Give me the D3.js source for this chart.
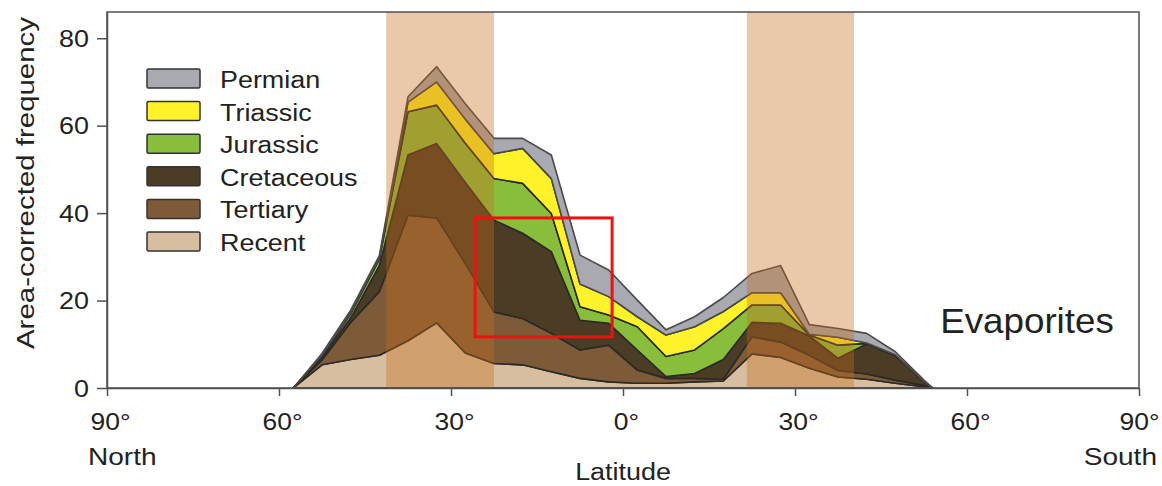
<!DOCTYPE html>
<html>
<head>
<meta charset="utf-8">
<script src="https://cdn.jsdelivr.net/npm/d3@7"></script>
<style>
  html, body { margin: 0; padding: 0; background: #fff; }
  svg { display: block; font-family: "Liberation Sans", Arial, sans-serif; }
</style>
</head>
<body>
<div class="visHolder"></div>
<script>
// latitude of each sample, north positive
const latitudes = [57.5, 52.5, 47.5, 42.5, 37.5, 32.5, 27.5, 22.5, 17.5, 12.5, 7.5, 2.5,
                   -2.5, -7.5, -12.5, -17.5, -22.5, -27.5, -32.5, -37.5, -42.5, -47.5, -52.5, -54];
// area-corrected frequency per period (layer thickness, stacked bottom -> top)
const recent     = [0, 5.3, 6.5, 7.5, 10.8, 14.9, 8.0, 5.6, 5.3, 3.7, 2.2, 1.4, 1.1, 1.1, 1.4, 1.6, 7.8, 7.0, 4.5, 2.5, 2.0, 1.1, 0.3, 0];
const tertiary   = [0, 1.1, 8.5, 14.5, 28.7, 24.0, 20.5, 11.8, 10.6, 8.8, 6.5, 8.4, 3.0, 1.1, 0.8, 0.4, 3.9, 3.5, 3.0, 1.5, 1.2, 0.7, 0.3, 0];
const cretaceous = [0, 0.6, 1.0, 6.0, 13.8, 17.0, 18.5, 21.0, 19.5, 18.7, 6.8, 5.0, 4.6, 0.4, 1.1, 4.5, 3.3, 4.3, 4.4, 2.8, 6.9, 5.6, 0.8, 0];
const jurassic   = [0, 0.4, 1.0, 1.5, 9.9, 8.8, 9.0, 9.5, 11.4, 8.7, 3.1, 1.9, 5.3, 4.6, 5.4, 7.1, 4.0, 4.2, 0.2, 3.0, 0.1, 0.1, 0.1, 0];
const triassic   = [0, 0.1, 0.2, 0.2, 2.2, 5.3, 5.5, 5.7, 8.0, 8.0, 5.2, 4.2, 2.3, 4.9, 5.3, 3.9, 2.8, 2.8, 0.2, 1.8, 0.1, 0.1, 0, 0];
const permian    = [0, 0.4, 0.6, 0.6, 1.2, 3.5, 3.5, 3.5, 2.3, 5.4, 6.6, 6.1, 3.8, 1.2, 2.3, 3.2, 4.4, 6.2, 2.2, 2.0, 2.2, 0.7, 0.3, 0];

const periods = ['Permian', 'Triassic', 'Jurassic', 'Cretaceous', 'Tertiary', 'Recent'];
const yTicks = [0, 20, 40, 60, 80];
const xTicks = [90, 60, 30, 0, -30, -60, -90];
// arid belts (latitude from, to)
const bands = [[41.3, 22.5], [-21.6, -40.3]];
// highlighted box: [lat1, lat2, value1, value2]
const focusBox = [25.8, 1.9, 11.7, 38.9];

const w = 1162, h = 486;
const padL = 107, padR = 1139, padT = 12, padB = 388;
const stretchX = 1.17;

const colors = {
  Permian: '#a9a9b1',
  Triassic: '#fff22a',
  Jurassic: '#88be3c',
  Cretaceous: '#4b3c25',
  Tertiary: '#7d5b39',
  Recent: '#d8bea0'
};

const rows = latitudes.map((lat, i) => ({
  lat: lat,
  Recent: recent[i], Tertiary: tertiary[i], Cretaceous: cretaceous[i],
  Jurassic: jurassic[i], Triassic: triassic[i], Permian: permian[i]
}));

const svg = d3.select('.visHolder')
  .append('svg')
  .attr('width', w)
  .attr('height', h);

const xScale = d3.scaleLinear().domain([90, -90]).range([padL, padR]);
const yScale = d3.scaleLinear().domain([0, 86]).range([padB, padT]);

// stacked layers, Recent at the bottom
const stack = d3.stack().keys(periods.slice().reverse());
const layers = stack(rows);

const area = d3.area()
  .x(d => xScale(d.data.lat))
  .y0(d => yScale(d[0]))
  .y1(d => yScale(d[1]));

svg.append('g')
  .selectAll('path')
  .data(layers)
  .enter()
  .append('path')
  .attr('d', area)
  .attr('fill', d => colors[d.key])
  .attr('stroke', d => d.key === 'Permian' ? '#4a4a4a' : '#2c2a26')
  .attr('stroke-width', 1.6)
  .attr('stroke-linejoin', 'round');

// tinted latitude bands laid over the layers
svg.append('g')
  .selectAll('rect')
  .data(bands)
  .enter()
  .append('rect')
  .attr('x', d => xScale(d[0]))
  .attr('width', d => xScale(d[1]) - xScale(d[0]))
  .attr('y', yScale.range()[1])
  .attr('height', yScale.range()[0] - yScale.range()[1])
  .attr('fill', '#c66c1c')
  .attr('fill-opacity', 0.37);

// frame
svg.append('rect')
  .attr('x', padL).attr('y', padT)
  .attr('width', padR - padL).attr('height', padB - padT)
  .attr('fill', 'none')
  .attr('stroke', '#505050')
  .attr('stroke-width', 1.5);

const yAxis = d3.axisLeft(yScale).tickValues(yTicks).tickSize(10).tickSizeOuter(0).tickPadding(8);
const xAxis = d3.axisBottom(xScale).tickValues(xTicks).tickSize(8).tickSizeOuter(0)
  .tickFormat(d => Math.abs(d) + '°');

const gy = svg.append('g')
  .attr('transform', `translate(${padL}, 0)`)
  .call(yAxis);
const gx = svg.append('g')
  .attr('transform', `translate(0, ${padB})`)
  .call(xAxis);

[gx, gy].forEach(g => {
  g.selectAll('path, line').attr('stroke', '#505050').attr('stroke-width', 1.5);
  g.selectAll('text').attr('fill', '#222').style('font-size', '23px');
});

gy.selectAll('text')
  .attr('dy', '0.36em')
  .attr('transform', function() {
    const tx = +this.getAttribute('x');
    this.setAttribute('x', 0);
    return `translate(${tx},0) scale(${stretchX},1)`;
  });

gx.selectAll('text')
  .attr('dy', 0)
  .attr('y', 0)
  .attr('transform', d => `translate(${d === -90 ? 0 : 3},42) scale(1.15,1)`);

// helper for stretched text
const label = (txt, x, y, size, anchor, k) => svg.append('text')
  .attr('transform', `translate(${x},${y}) scale(${k},1)`)
  .attr('text-anchor', anchor)
  .style('font-size', size + 'px')
  .attr('fill', '#222')
  .text(txt);

label('North', 88, 465, 23, 'start', 1.22);
label('South', 1157, 465, 23, 'end', 1.22);
label('Latitude', (padL + padR) / 2, 480, 23, 'middle', stretchX);
label('Evaporites', 1027, 333, 35, 'middle', 1.05);

svg.append('text')
  .attr('transform', `translate(34,183) rotate(-90) scale(1.28,1)`)
  .attr('text-anchor', 'middle')
  .style('font-size', '23px')
  .attr('fill', '#222')
  .text('Area-corrected frequency');

// legend
const legend = svg.append('g')
  .selectAll('g')
  .data(periods)
  .enter()
  .append('g')
  .attr('transform', (d, i) => `translate(147, ${69 + i * 32.6})`);

legend.append('rect')
  .attr('width', 53)
  .attr('height', 19)
  .attr('rx', 1.5)
  .attr('fill', d => colors[d])
  .attr('stroke', '#333')
  .attr('stroke-width', 1.5);

legend.append('text')
  .attr('transform', `translate(73,19) scale(${stretchX},1)`)
  .style('font-size', '23px')
  .attr('fill', '#222')
  .text(d => d);

// red highlight box
svg.append('rect')
  .attr('x', xScale(focusBox[0]))
  .attr('y', yScale(focusBox[3]))
  .attr('width', xScale(focusBox[1]) - xScale(focusBox[0]))
  .attr('height', yScale(focusBox[2]) - yScale(focusBox[3]))
  .attr('fill', 'none')
  .attr('stroke', '#ee1111')
  .attr('stroke-width', 3);
</script>
</body>
</html>
